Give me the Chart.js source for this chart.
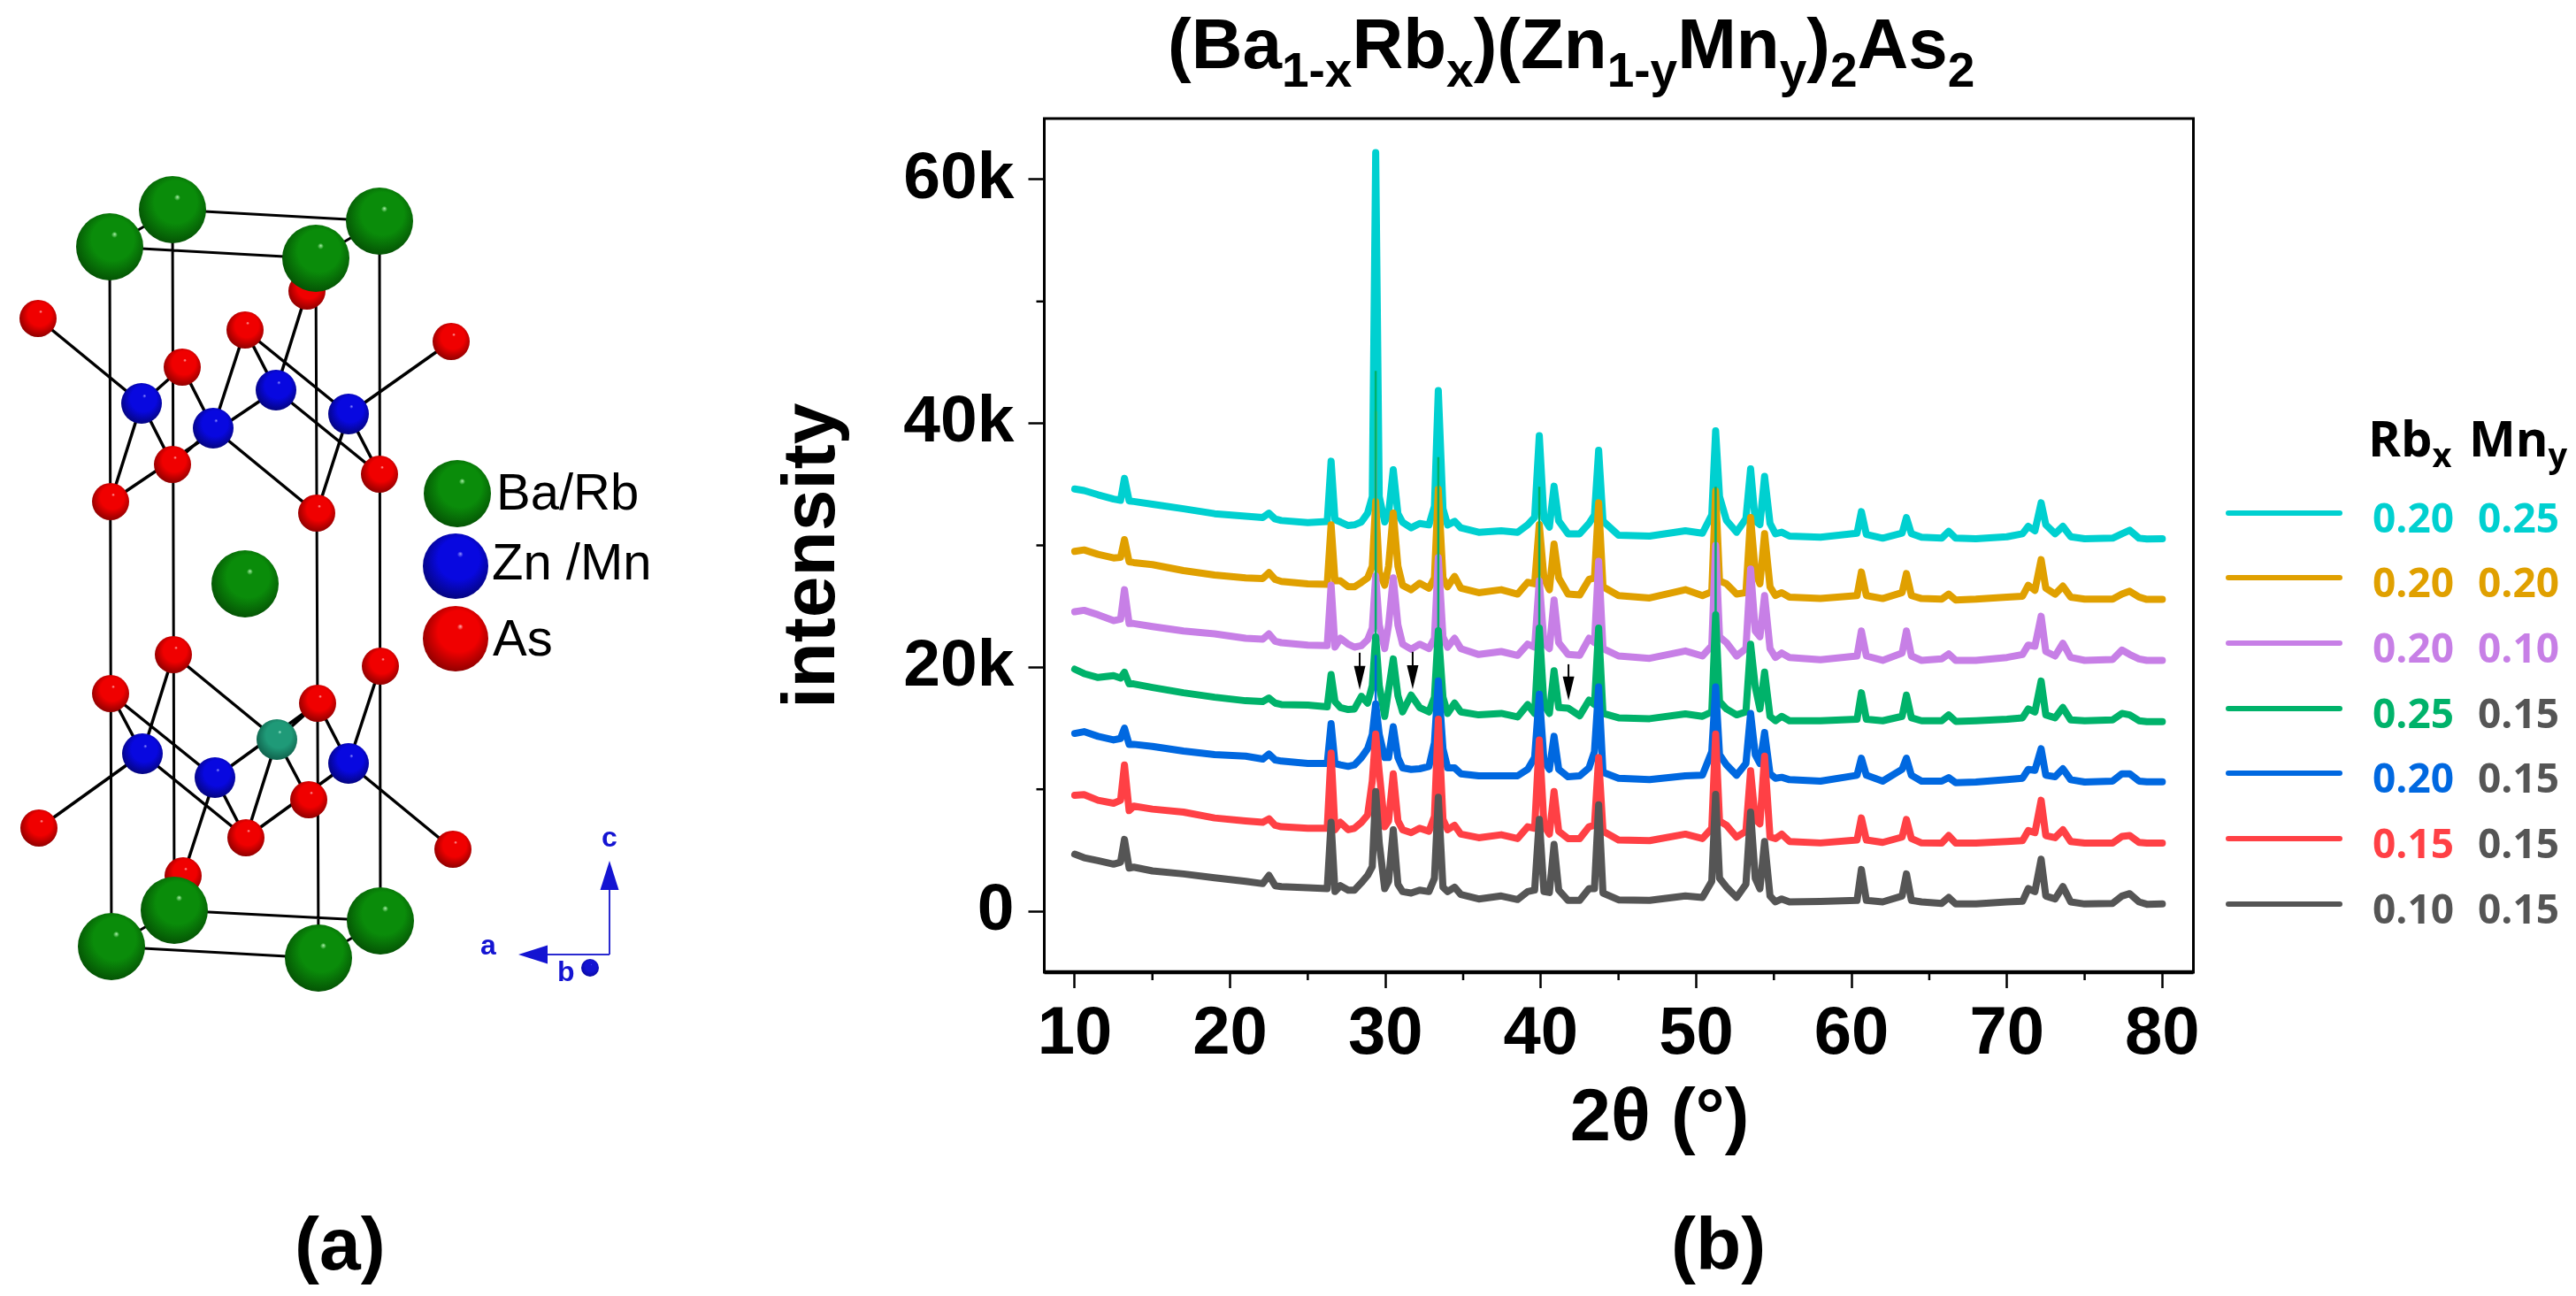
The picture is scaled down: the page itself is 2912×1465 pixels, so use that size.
<!DOCTYPE html>
<html>
<head>
<meta charset="utf-8">
<script src="https://cdn.jsdelivr.net/npm/chart.js@4"></script>
<style>
html,body{margin:0;padding:0;background:#fff;}
#page{position:relative;width:2912px;height:1465px;overflow:hidden;background:#fff;font-family:"Liberation Sans",Arial,sans-serif;}
canvas{position:absolute;left:0;top:0;}
.t{position:absolute;white-space:nowrap;line-height:1;}
.sub{position:relative;}
.leg{position:absolute;white-space:nowrap;line-height:1;font-family:"Open Sans",sans-serif;font-weight:700;font-size:46px;}
.legline{position:absolute;height:6px;border-radius:3px;}
</style>
</head>
<body>
<div id="page">
<canvas id="xrd" width="2912" height="1465"></canvas>
<canvas id="cell" width="800" height="1465"></canvas>
</div>
<script>
// ---------- panel (b): XRD patterns ----------
const twoTheta = [
10,10.6,11.5,12.5,12.95,13.2,13.5,13.8,15,17,
19,21,22.1,22.5,22.9,23.3,25,26.25,26.5,26.75,
27.1,27.6,28,28.45,28.85,29.15,29.37,29.6,29.95,30.2,
30.5,30.8,31.1,31.65,32.2,32.8,33.15,33.4,33.7,34,
34.45,34.85,36,37.45,38.5,39.15,39.6,39.9,40.2,40.55,
40.85,41.15,41.75,42.5,43.1,43.45,43.72,44,45,47,
49.3,50.4,51,51.25,51.5,51.95,52.6,53.2,53.5,53.8,
54.1,54.4,54.75,55.1,55.5,56,58,60.35,60.63,60.95,
62,63.25,63.53,63.85,64.5,65.8,66.25,66.7,68,70,
71,71.37,71.8,72.2,72.5,73.1,73.6,74.1,75,76.8,
77.4,77.9,78.5,79,80];
const intensityGray = [
4680,4390,4148,3860,4028,5887,3544,3617,3303,3061,
2747,2458,2265,2940,2095,2024,1926,1854,7288,1612,
2095,1733,1733,2337,2940,3665,9823,5597,1854,2458,
6684,2216,1612,1492,1733,1612,2699,9340,1974,1612,
1974,1370,1008,1250,960,1612,1733,7529,1612,1540,
5477,1733,888,888,1854,1854,8736,1492,937,888,
1251,1131,2459,9583,2700,1975,1131,2217,8134,2700,
1855,5718,1251,770,1010,770,800,888,3424,888,
770,1251,3062,888,770,645,1128,597,597,766,
815,1854,1612,4269,1250,1008,2024,766,597,645,
1250,1443,766,573,597];
const intensityRed = [
9510,9558,9099,8857,9099,11997,8253,8615,8375,8133,
7650,7409,7288,7578,7046,6925,6804,6804,12963,6684,
7288,6684,6804,7288,7892,10668,14533,11393,6925,7409,
11272,7409,6684,6443,6804,6563,7771,15740,7530,6684,
7046,6321,6032,6273,5960,6925,6804,14050,7046,6321,
9823,6563,5960,5960,6925,7046,12600,6564,5840,5790,
6322,5960,6806,14533,7400,7047,6081,6564,11515,7530,
7168,12722,6081,5960,6322,5720,5600,5840,7650,5840,
5646,6081,7530,5960,5600,5597,6201,5597,5597,5719,
5790,6612,6443,9099,6201,6032,6684,5719,5597,5597,
6129,6201,5645,5597,5597];
const intensityBlue = [
14580,14725,14340,14050,14170,15016,13687,13687,13518,13132,
12842,12721,12480,12890,12408,12311,12118,12118,15378,12118,
11997,11876,11997,12600,13325,14500,17000,14500,12600,12600,
15136,12600,11756,11634,11684,11876,13808,18880,13325,11755,
11755,11272,11103,11103,11103,11635,12600,17793,12360,11635,
14340,11635,11030,11103,11755,13085,18397,11394,10910,10790,
11104,11152,13085,18400,12843,11998,11152,12118,16224,12843,
12118,14654,11273,10910,10983,10790,10670,11152,12553,11152,
10670,11635,12553,11152,10670,10670,10958,10548,10596,10789,
10910,11635,11562,13325,11152,11030,11682,10789,10596,10670,
11272,11272,10670,10620,10620];
const intensityGreen = [
19845,19483,19170,19314,19120,19600,18640,18640,18350,17913,
17552,17262,17190,17480,17070,16950,16900,16755,19411,17190,
16706,16537,16585,17624,17070,18500,22500,18500,15982,18155,
20690,17672,16344,17720,16706,16344,17552,23000,17552,16223,
17070,16344,16102,16223,15934,16948,16223,23226,16948,16223,
19725,16706,16658,16030,17310,16948,23226,16224,15862,15790,
16175,15983,16345,24300,17190,16587,16103,16345,21900,18400,
16587,19605,15983,15620,15983,15620,15620,15740,17915,15740,
15620,15983,17720,15862,15620,15620,16102,15570,15620,15740,
15860,16585,16344,18880,16102,15860,16706,15690,15620,15690,
16223,16102,15620,15546,15546];
const intensityPurple = [
24555,24675,24313,23830,23950,26366,23590,23590,23347,22985,
22744,22380,22309,22744,22140,22020,21826,21778,26728,21657,
22380,21900,21657,21778,22260,23226,27500,23470,21536,23470,
27332,23470,21900,21488,21900,21536,22380,29000,22500,21657,
22380,21536,21053,21295,20980,21900,21657,27090,22000,21536,
25520,22020,21053,20980,22380,22020,28700,21537,20933,20740,
21344,20933,21778,30000,22503,22020,20933,21537,28057,22986,
22503,25884,21537,20812,21175,20812,20620,20933,22986,20933,
20571,21175,22986,20933,20571,20691,21102,20570,20570,20812,
21053,21826,21729,24192,21295,20932,21971,20812,20570,20643,
21415,21053,20691,20570,20570];
const intensityOrange = [
29505,29627,29264,28974,29020,30470,28660,28590,28420,27936,
27574,27332,27284,27767,27212,27042,26849,26800,31679,27090,
27090,26608,26608,26970,27332,28300,33600,27800,26730,28300,
32645,28300,26730,26366,26900,26487,27332,34600,27332,26608,
27453,26487,26125,26366,26004,26970,26850,31700,27332,26366,
30109,27332,26004,25930,27212,27332,33491,26608,25884,25690,
26367,25884,26200,34457,27092,26850,26005,26125,32284,27816,
26850,30955,26608,25900,26125,25763,25643,25884,27816,25884,
25643,26125,27695,25884,25640,25593,26004,25520,25593,25762,
25835,26728,26320,28830,26487,26004,26656,25762,25593,25593,
26004,26245,25762,25569,25569];
const intensityCyan = [
34620,34500,34150,33800,33700,35500,33650,33600,33370,33000,
32600,32400,32280,32640,32160,32040,31870,31950,36900,32100,
31920,31630,31680,31920,32640,34000,62200,34000,31920,32600,
36200,32600,31900,31440,31800,31680,33200,42700,33000,31680,
31970,31440,31075,31200,31075,31680,32300,39000,32200,31500,
34850,32000,30950,30950,31800,32500,37800,32000,30835,30760,
31200,31000,32500,39400,34000,32040,31080,32200,36270,32000,
31700,35660,31800,30950,31080,30760,30670,31000,32770,30900,
30590,31000,32280,30955,30670,30590,31150,30590,30540,30710,
30955,31560,31200,33490,31700,30955,31560,30710,30540,30590,
30955,31240,30590,30520,30540];

// thin needle tips of the sharpest peaks: [2theta, base, tip]
const blueSpikes = [[29.37,17000,21000]];
const greenSpikes = [[29.37,22500,44300],[33.4,23000,37230],[39.9,23200,34800],[51.25,24300,34800]];
const purpleSpikes = [[29.37,27500,37000]];
const orangeSpikes = [[29.37,33600,41000]];

const xTicks = [10,15,20,25,30,35,40,45,50,55,60,65,70,75,80];
const yTicks = [0,10000,20000,30000,40000,50000,60000];
const seriesRb = ['0.10','0.15','0.20','0.25','0.20','0.20','0.20'];
const seriesMn = ['0.15','0.15','0.15','0.15','0.10','0.20','0.25'];
const seriesColors = ['#555555','#FF4045','#0068E0','#00B26A','#C77FE6','#E0A000','#00D0D0'];
const mnColors = ['#555555','#555555','#555555','#555555','#C77FE6','#E0A000','#00D0D0'];
const seriesData = [intensityGray,intensityRed,intensityBlue,intensityGreen,intensityPurple,intensityOrange,intensityCyan];
const seriesSpikes = [[],[],blueSpikes,greenSpikes,purpleSpikes,orangeSpikes,[]];
const arrowX = [28.34,31.75,41.78];
const arrowTop = [21200,21270,20250];
const arrowTip = [18150,18220,17280];

// ---------- panel (a): crystal structure, in picture units ----------
const greenAtoms = [[195,237],[124,279],[429,250],[357,292],[277,660],[197,1029],[126,1070],[430,1041],[360,1083]];
const redAtoms = [[43,360],[347,329],[277,373],[510,386],[206,415],[195,525],[125,567],[429,536],[358,580],
  [196,740],[125,784],[430,753],[359,795],[349,904],[44,936],[278,947],[512,960],[207,990]];
const blueAtoms = [[160,456],[312,441],[241,484],[394,468],[161,852],[243,879],[394,863]];
const tealAtoms = [[313,836]];
const keyGreen = [[517,558]];
const keyBlue = [[515,640]];
const keyRed = [[515,722]];
const cellEdges = [
 [[124,279],[126,1070]],[[195,237],[197,1029]],[[357,292],[360,1083]],[[429,250],[430,1041]],
 [[195,237],[429,250]],[[124,279],[357,292]],[[124,279],[195,237]],[[357,292],[429,250]],
 [[197,1029],[430,1041]],[[126,1070],[360,1083]],[[126,1070],[197,1029]],[[360,1083],[430,1041]]];
const bondPairs = [
 [[160,456],[43,360]],[[160,456],[206,415]],[[160,456],[195,525]],[[160,456],[125,567]],
 [[312,441],[347,329]],[[312,441],[277,373]],[[312,441],[125,567]],[[312,441],[429,536]],
 [[241,484],[206,415]],[[241,484],[277,373]],[[241,484],[195,525]],[[241,484],[358,580]],
 [[394,468],[277,373]],[[394,468],[510,386]],[[394,468],[429,536]],[[394,468],[358,580]],
 [[313,836],[196,740]],[[313,836],[359,795]],[[313,836],[278,947]],[[313,836],[349,904]],
 [[161,852],[44,936]],[[161,852],[196,740]],[[161,852],[125,784]],[[161,852],[278,947]],
 [[243,879],[125,784]],[[243,879],[278,947]],[[243,879],[207,990]],[[243,879],[359,795]],
 [[394,863],[512,960]],[[394,863],[359,795]],[[394,863],[430,753]],[[394,863],[278,947]]];
const triadAxes = [[[689,1079],[689,990]],[[689,1079],[600,1079]]];
const triadDot = [[667,1094]];
const triadHeads = [[689,973,0,-1],[586,1079,-1,0]];

// ---------- plugins ----------
const isMajorX = v => v % 10 === 0;
const isMajorY = v => v % 20000 === 0;
const xrdFurniture = {
  id:'xrdFurniture',
  afterDraw(chart){
    const {ctx,chartArea:a,scales:{x,y}} = chart;
    ctx.save();
    ctx.strokeStyle='#000';
    ctx.lineWidth=3;
    ctx.strokeRect(a.left,a.top,a.right-a.left,a.bottom-a.top);
    ctx.lineWidth=4.5;
    ctx.beginPath();ctx.moveTo(a.left,a.bottom);ctx.lineTo(a.right,a.bottom);ctx.stroke();
    ctx.lineWidth=2.5;
    xTicks.filter(v=>!isMajorX(v)).forEach(v=>{
      const p=x.getPixelForValue(v);
      ctx.beginPath();ctx.moveTo(p,a.bottom);ctx.lineTo(p,a.bottom+9);ctx.stroke();
    });
    yTicks.filter(v=>!isMajorY(v)).forEach(v=>{
      const p=y.getPixelForValue(v);
      ctx.beginPath();ctx.moveTo(a.left,p);ctx.lineTo(a.left-9,p);ctx.stroke();
    });
    ctx.fillStyle='#000';
    arrowX.forEach((v,i)=>{
      const px=x.getPixelForValue(v),t=y.getPixelForValue(arrowTop[i]),b=y.getPixelForValue(arrowTip[i]);
      ctx.lineWidth=2;
      ctx.beginPath();ctx.moveTo(px,t);ctx.lineTo(px,b-20);ctx.stroke();
      ctx.beginPath();ctx.moveTo(px,b);ctx.lineTo(px-6.5,b-27);ctx.lineTo(px+6.5,b-27);ctx.closePath();ctx.fill();
    });
    ctx.restore();
  }
};
const triadPlugin = {
  id:'triadPlugin',
  afterDraw(chart){
    const {ctx,scales:{x,y}} = chart;
    ctx.save();
    ctx.fillStyle='#1414d2';
    triadHeads.forEach(h=>{
      const px=x.getPixelForValue(h[0]),py=y.getPixelForValue(h[1]),len=33,w=10.5;
      const bx=px-h[2]*len,by=py-h[3]*len;
      ctx.beginPath();ctx.moveTo(px,py);
      ctx.lineTo(bx+h[3]*w,by-h[2]*w);ctx.lineTo(bx-h[3]*w,by+h[2]*w);ctx.closePath();ctx.fill();
    });
    ctx.restore();
  }
};

// ---------- chart (b) ----------
const xrdDatasets = [];
seriesData.forEach((vals,i)=>{
  xrdDatasets.push({
    label:'Rb '+seriesRb[i]+' Mn '+seriesMn[i],
    data:twoTheta.map((t,j)=>({x:t,y:vals[j]})),
    borderColor:seriesColors[i],
    backgroundColor:seriesColors[i],
    borderWidth:8,
    pointRadius:0,
    tension:0,
    borderJoinStyle:'round',
    borderCapStyle:'round',
    fill:false
  });
  if(seriesSpikes[i].length){
    xrdDatasets.push({
      label:'needle tips '+i,
      data:seriesSpikes[i].flatMap(s=>[{x:s[0],y:s[1]},{x:s[0],y:s[2]},{x:null,y:null}]),
      borderColor:seriesColors[i],
      borderWidth:2.5,
      pointRadius:0,
      spanGaps:false,
      fill:false
    });
  }
});
new Chart(document.getElementById('xrd'),{
  type:'line',
  data:{datasets:xrdDatasets},
  plugins:[xrdFurniture],
  options:{
    responsive:false,animation:false,devicePixelRatio:1,events:[],
    layout:{padding:{left:0,top:134,right:432.5,bottom:0}},
    plugins:{legend:{display:false},tooltip:{enabled:false},title:{display:false}},
    scales:{
      x:{
        type:'linear',min:8.04,max:82,
        afterFit(s){s.height=366;},
        afterBuildTicks(s){s.ticks=xTicks.map(v=>({value:v}));},
        grid:{drawOnChartArea:false,drawTicks:true,tickLength:18,tickWidth:2.5,
          tickColor:c=>isMajorX(c.tick.value)?'#000':'rgba(0,0,0,0)'},
        border:{display:false},
        ticks:{autoSkip:false,maxRotation:0,padding:7,color:'#000',
          font:{family:'Liberation Sans',size:76,weight:'bold'},
          callback:v=>isMajorX(v)?String(v):''},
        title:{display:true,text:'    2θ (°)',color:'#000',
          font:{family:'Liberation Sans',size:83,weight:'bold'},padding:{top:0,bottom:149}}
      },
      y:{
        type:'linear',min:-5000,max:65000,
        afterFit(s){s.width=1180.5;},
        afterBuildTicks(s){s.ticks=yTicks.map(v=>({value:v}));},
        grid:{drawOnChartArea:false,drawTicks:true,tickLength:18,tickWidth:2.5,
          tickColor:c=>isMajorY(c.tick.value)?'#000':'rgba(0,0,0,0)'},
        border:{display:false},
        ticks:{autoSkip:false,padding:16,color:'#000',
          font:{family:'Liberation Sans',size:75,weight:'bold'},
          callback:v=>isMajorY(v)?(v===0?'0':(v/1000)+'k'):''},
        title:{display:true,text:'intensity ',color:'#000',
          font:{family:'Liberation Sans',size:84,weight:'bold'},padding:{top:869,bottom:0}}
      }
    }
  }
});

// ---------- chart (a) ----------
function sphere(hi,mid,dark,r){
  return c=>{
    if(!c.raw) return mid;
    const s=c.chart.scales,px=s.x.getPixelForValue(c.raw.x),py=s.y.getPixelForValue(c.raw.y);
    if(!isFinite(px)||!isFinite(py)) return mid;
    const g=c.chart.ctx.createRadialGradient(px+r*.15,py-r*.38,0,px+r*.05,py-r*.1,r*1.15);
    g.addColorStop(0,hi);g.addColorStop(.08,mid);g.addColorStop(.55,mid);g.addColorStop(1,dark);
    return g;
  };
}
const xy = p=>({x:p[0],y:p[1]});
const segs = list=>list.flatMap(s=>[xy(s[0]),xy(s[1]),{x:null,y:null}]);
const atoms = (list,r,hi,mid,dark,order)=>({
  type:'scatter',data:list.map(xy),pointRadius:r,borderWidth:0,pointBorderWidth:0,
  pointBackgroundColor:sphere(hi,mid,dark,r),backgroundColor:mid,order,showLine:false,clip:false
});
const G=['#a8f0a8','#0a8c0a','#044f04'],B=['#9090ff','#0808e0','#04047a'],R=['#ffb0b0','#f00000','#8a0000'],T=['#9fe8d0','#1f9a78','#0f5f4a'];
new Chart(document.getElementById('cell'),{
  type:'scatter',
  data:{datasets:[
    {data:segs(cellEdges),showLine:true,borderColor:'#000',borderWidth:3,pointRadius:0,spanGaps:false,order:10},
    {data:segs(bondPairs),showLine:true,borderColor:'#000',borderWidth:3.5,pointRadius:0,spanGaps:false,order:9},
    {data:segs(triadAxes),showLine:true,borderColor:'#2a2ad0',borderWidth:2,pointRadius:0,spanGaps:false,order:8},
    atoms(redAtoms,21,...R,5),
    atoms(blueAtoms,23,...B,4),
    atoms(tealAtoms,23,...T,4),
    atoms(greenAtoms,38,...G,3),
    atoms(keyGreen,38,...G,2),
    atoms(keyBlue,37,...B,2),
    atoms(keyRed,37,...R,2),
    atoms(triadDot,10,'#5050ff','#1414d2','#0808a0',2)
  ]},
  plugins:[triadPlugin],
  options:{
    responsive:false,animation:false,devicePixelRatio:1,events:[],
    layout:{padding:0,autoPadding:false},
    plugins:{legend:{display:false},tooltip:{enabled:false}},
    scales:{
      x:{type:'linear',min:0,max:800,display:false},
      y:{type:'linear',min:0,max:1465,reverse:true,display:false}
    }
  }
});

// ---------- real-text overlays ----------
const page=document.getElementById('page');
function put(html,left,top,css,cls){
  const d=document.createElement('div');
  d.className=cls||'t';
  d.innerHTML=html;
  d.style.left=left+'px';d.style.top=top+'px';
  d.style.cssText+=';'+(css||'');
  page.appendChild(d);
  return d;
}
const sub=(s,size,drop)=>'<span class="sub" style="font-size:'+size+'px;top:'+drop+'px">'+s+'</span>';
const s1=t=>sub(t,55,21);
put('(Ba'+s1('1-x')+'Rb'+s1('x')+')(Zn'+s1('1-y')+'Mn'+s1('y')+')'+s1('2')+'As'+s1('2'),1320,10,'font-size:80px;font-weight:bold;color:#000');
put('(a)',333,1364,'font-size:84px;font-weight:bold;color:#000');
put('(b)',1889,1364,'font-size:84px;font-weight:bold;color:#000');
put('Ba/Rb',561,527,'font-size:58px;color:#000');
put('Zn /Mn',556,606,'font-size:58px;color:#000');
put('As',557,692,'font-size:58px;color:#000');
put('c',680,930,'font-size:32px;font-weight:bold;color:#1414d2');
put('a',543,1052,'font-size:32px;font-weight:bold;color:#1414d2');
put('b',630,1082,'font-size:32px;font-weight:bold;color:#1414d2');

// legend
put('Rb'+sub('x',38,12),2677,466,'font-family:Open Sans;font-size:56px;font-weight:700;color:#000');
put('Mn'+sub('y',38,12),2791,466,'font-family:Open Sans;font-size:56px;font-weight:700;color:#000');
const legendY=[1022,948,874,801,727,653,579.5];
seriesRb.forEach((rb,i)=>{
  const y=legendY[i];
  put('',2516,y-3,'width:132px;background:'+seriesColors[i],'legline');
  put(rb,2682,y-19,'color:'+seriesColors[i],'leg');
  put(seriesMn[i],2801,y-19,'color:'+mnColors[i],'leg');
});
</script>
</body>
</html>
